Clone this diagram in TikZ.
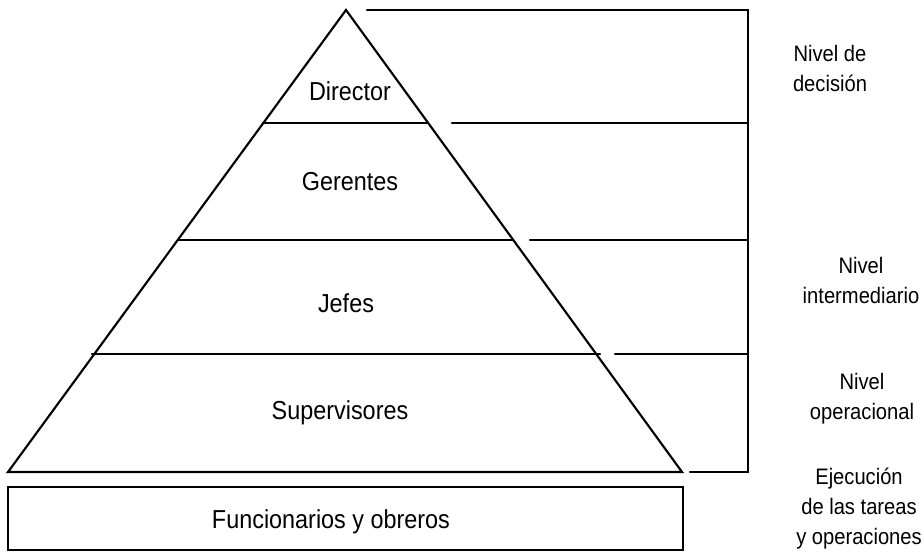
\documentclass[tikz,border=0pt]{standalone}
\usepackage{fontspec}
\setmainfont{Liberation Sans}[FakeStretch=0.9]
\begin{document}
\begin{tikzpicture}[x=0.75pt,y=-0.75pt,
  ln/.style={line width=1.6pt, line cap=round},
  lbl/.style={font=\fontsize{19.5}{22.5}\selectfont, inner sep=0pt},
  side/.style={font=\fontsize{16.8}{22.5}\selectfont, inner sep=0pt, align=center}]
\useasboundingbox (0,0) rectangle (924,560);
% pyramid
\coordinate (apex) at (346,10);
\coordinate (bl) at (8,472);
\coordinate (br) at (682,472);
\draw[ln, line join=miter] (bl) -- (apex) -- (br) -- cycle;
% chords
\draw[ln] (263,123) -- (428,123);
\draw[ln] (178,240) -- (513,240);
\draw[ln] (92,354) -- (600,354);
% right bracket lines
\coordinate (t0) at (367,10);
\coordinate (t1) at (748,10);
\coordinate (t5) at (748,472);
\draw[ln] (t0) -- (t1) -- (t5) -- (690,472);
\draw[ln] (452,123) -- (748,123);
\draw[ln] (530,240) -- (748,240);
\draw[ln] (615,354) -- (748,354);
% bottom box
\node[draw, line width=1.6pt, minimum width=675*0.75pt, minimum height=63*0.75pt, anchor=north west, inner sep=0pt] (box) at (7,486) {};
\node[lbl, anchor=base] (fo) at (331,528) {Funcionarios y obreros};
% level names
\node[lbl, anchor=base] (dir) at (350,100) {Director};
\node[lbl, anchor=base] (ger) at (350,190) {Gerentes};
\node[lbl, anchor=base] (jef) at (346,312) {Jefes};
\node[lbl, anchor=base] (sup) at (340,419) {Supervisores};
% side labels
\node[side] (n1) at (830,68) {Nivel de\\decisión};
\node[side] (n2) at (861,280) {Nivel\\intermediario};
\node[side] (n3) at (862,399) {Nivel\\operacional};
\node[side] (n4) at (859,509) {Ejecución\\de las tareas\\y operaciones};
\end{tikzpicture}
\end{document}
